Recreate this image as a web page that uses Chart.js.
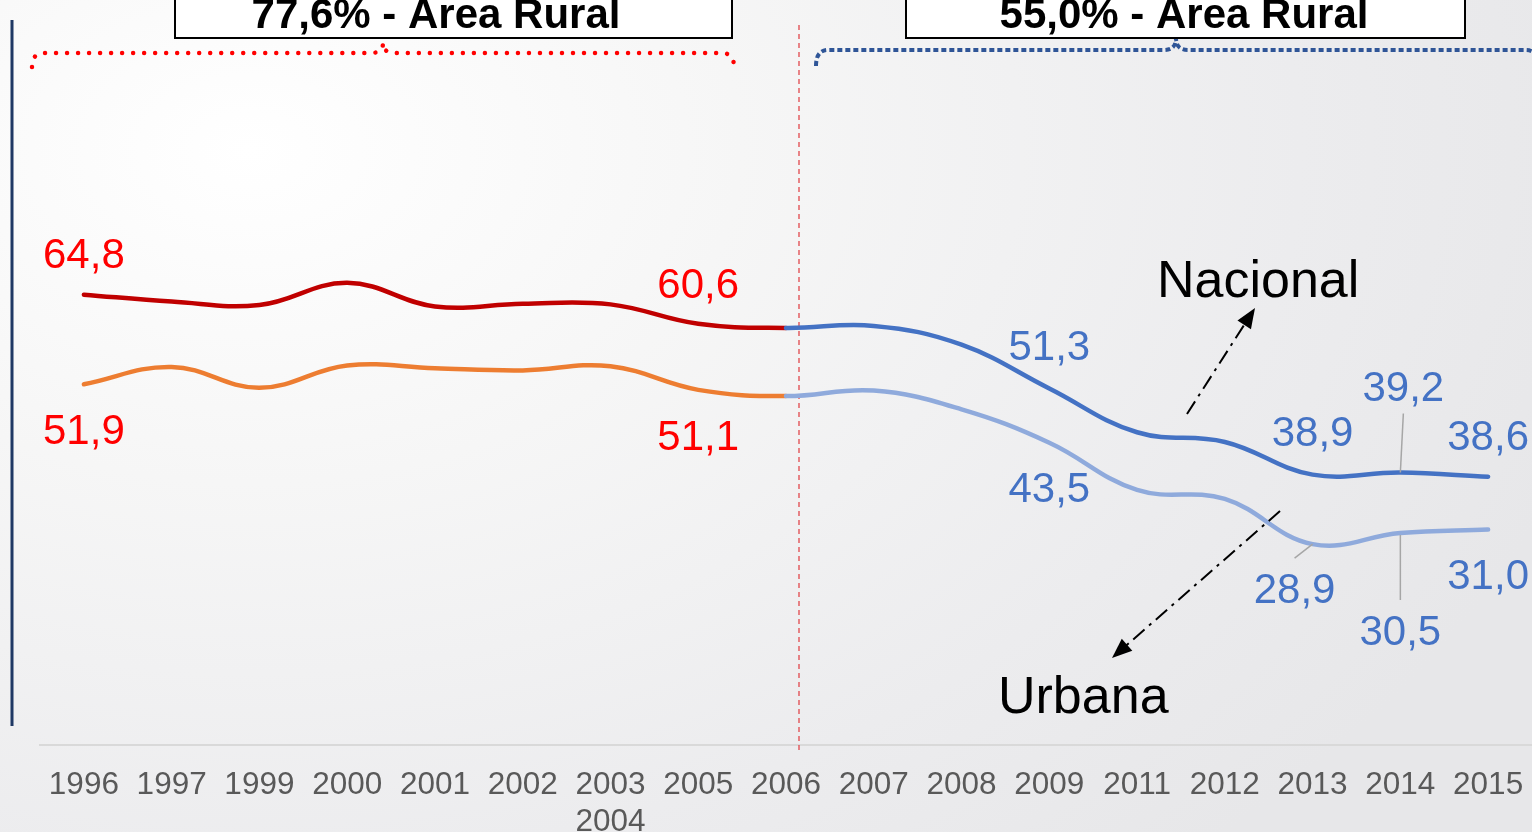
<!DOCTYPE html>
<html>
<head>
<meta charset="utf-8">
<script src="https://cdn.jsdelivr.net/npm/chart.js@4.4.1/dist/chart.umd.min.js"></script>
<style>
  html, body { margin: 0; padding: 0; }
  body {
    width: 1532px; height: 832px; overflow: hidden;
    background: radial-gradient(ellipse 1400px 950px at 250px 150px, #ffffff 0%, #f6f6f6 35%, #ececee 75%, #e7e7e9 100%);
  }
  #grafico { display: block; }
</style>
</head>
<body>
<canvas id="grafico" width="1532" height="832"></canvas>
<script>
// anos (2003 e 2004 partilham a mesma posição)
const anos = ["1996", "1997", "1999", "2000", "2001", "2002", ["2003", "2004"], "2005", "2006",
  "2007", "2008", "2009", "2011", "2012", "2013", "2014", "2015"];
const nacional = [64.8, 63.8, 63.3, 66.5, 63.1, 63.5, 63.4, 60.6, 60.0, 60.3, 57.6, 51.3, 45.0, 43.6, 38.9, 39.2, 38.6];
const urbana = [51.9, 54.4, 51.4, 54.6, 54.2, 53.9, 54.5, 51.1, 50.2, 51.0, 48.3, 43.5, 36.7, 35.4, 28.9, 30.5, 31.0];
// pontos com rótulo
const rotulosNacional = [0, 7, 11, 14, 15, 16];
const rotulosUrbana = [0, 7, 11, 14, 15, 16];
const faixas = ["77,6% - Área Rural", "55,0% - Área Rural"];
const corte = 8; // 2006 - a partir daqui a cor muda

const cores = {
  nacionalAntes: "#c00000",
  urbanaAntes: "#ed7d31",
  nacionalDepois: "#4472c4",
  urbanaDepois: "#8faadc",
  rotuloAntes: "#ff0000",
  rotuloDepois: "#4472c4",
};

// deslocamento dos rótulos em relação ao ponto [dx, dy da linha de base]
const posNacional = { 0: [0, -27], 7: [0, -26], 11: [0, -28], 14: [0, -29], 15: [3, -72], 16: [0, -27] };
const posUrbana = { 0: [0, 60], 7: [0, 60], 11: [0, 59], 14: [-18, 59], 15: [0, 112], 16: [0, 59] };

const fmt = (v) => v.toFixed(1).replace(".", ",");
const FONTE = '"Liberation Sans", Arial, sans-serif';

function linha(ctx, x1, y1, x2, y2) {
  ctx.beginPath();
  ctx.moveTo(x1, y1);
  ctx.lineTo(x2, y2);
  ctx.stroke();
}

function seta(ctx, x1, y1, x2, y2) {
  const ang = Math.atan2(y2 - y1, x2 - x1);
  ctx.save();
  ctx.strokeStyle = "#000";
  ctx.lineWidth = 2;
  ctx.setLineDash([15, 6, 3, 6]);
  linha(ctx, x1, y1, x2 - 14 * Math.cos(ang), y2 - 14 * Math.sin(ang));
  ctx.setLineDash([]);
  ctx.fillStyle = "#000";
  ctx.beginPath();
  ctx.moveTo(x2, y2);
  ctx.lineTo(x2 - 20 * Math.cos(ang) + 8 * Math.sin(ang), y2 - 20 * Math.sin(ang) - 8 * Math.cos(ang));
  ctx.lineTo(x2 - 20 * Math.cos(ang) - 8 * Math.sin(ang), y2 - 20 * Math.sin(ang) + 8 * Math.cos(ang));
  ctx.closePath();
  ctx.fill();
  ctx.restore();
}

function chave(ctx, x1, x2, xm, yBase, yPonta, yTopo) {
  ctx.beginPath();
  ctx.moveTo(x1, yPonta);
  ctx.quadraticCurveTo(x1, yBase, x1 + 12, yBase);
  ctx.lineTo(xm - 12, yBase);
  ctx.quadraticCurveTo(xm, yBase, xm, yTopo);
  ctx.quadraticCurveTo(xm, yBase, xm + 12, yBase);
  ctx.lineTo(x2 - 12, yBase);
  ctx.quadraticCurveTo(x2, yBase, x2, yPonta);
  ctx.stroke();
}

function caixa(ctx, x, w, texto, xt) {
  ctx.save();
  ctx.fillStyle = "#ffffff";
  ctx.fillRect(x, -4, w, 42);
  ctx.strokeStyle = "#000";
  ctx.lineWidth = 2;
  ctx.strokeRect(x, -4, w, 42);
  ctx.fillStyle = "#000";
  ctx.font = "bold 42px " + FONTE;
  ctx.textAlign = "center";
  ctx.textBaseline = "alphabetic";
  ctx.fillText(texto, xt, 28);
  ctx.restore();
}

const anotacoes = {
  id: "anotacoes",
  beforeDatasetsDraw(chart) {
    const { ctx, scales } = chart;
    ctx.save();
    // barra lateral
    ctx.strokeStyle = "#1f3864";
    ctx.lineWidth = 3;
    linha(ctx, 12, 20, 12, 726);
    // divisória vermelha tracejada
    const xd = scales.x.getPixelForValue(corte) + 13;
    ctx.strokeStyle = "#e0474c";
    ctx.lineWidth = 1.3;
    ctx.setLineDash([5, 4]);
    linha(ctx, xd, 25, xd, 750);
    ctx.restore();
  },
  afterDatasetsDraw(chart) {
    const { ctx, scales } = chart;
    const xs = scales.x, ys = scales.y;

    // linhas de chamada
    ctx.save();
    ctx.strokeStyle = "#a6a6a6";
    ctx.lineWidth = 1.5;
    let px = xs.getPixelForValue(15), py = ys.getPixelForValue(nacional[15]);
    linha(ctx, px + 3, py - 59, px, py);
    px = xs.getPixelForValue(14); py = ys.getPixelForValue(urbana[14]);
    linha(ctx, px - 18, py + 14, px, py);
    px = xs.getPixelForValue(15); py = ys.getPixelForValue(urbana[15]);
    linha(ctx, px, py + 2, px, py + 67);
    ctx.restore();

    // rótulos de valores
    ctx.save();
    ctx.font = "42px " + FONTE;
    ctx.textAlign = "center";
    ctx.textBaseline = "alphabetic";
    const rotular = (serie, indices, pos) => {
      indices.forEach((i) => {
        const [dx, dy] = pos[i];
        ctx.fillStyle = i < corte ? cores.rotuloAntes : cores.rotuloDepois;
        ctx.fillText(fmt(serie[i]), xs.getPixelForValue(i) + dx, ys.getPixelForValue(serie[i]) + dy);
      });
    };
    rotular(nacional, rotulosNacional, posNacional);
    rotular(urbana, rotulosUrbana, posUrbana);
    ctx.restore();

    // nomes das séries e setas
    ctx.save();
    ctx.fillStyle = "#000";
    ctx.font = "52px " + FONTE;
    ctx.textAlign = "left";
    ctx.fillText("Nacional", 1157, 297);
    ctx.fillText("Urbana", 998, 713);
    ctx.restore();
    seta(ctx, 1187, 414, 1255, 308);
    seta(ctx, 1280, 511, 1112, 658);

    // chaves
    ctx.save();
    ctx.strokeStyle = "#ff0000";
    ctx.lineWidth = 4.5;
    ctx.lineCap = "round";
    ctx.setLineDash([0.01, 11]);
    chave(ctx, 32, 734, 383, 53, 67, 43);
    ctx.strokeStyle = "#2f5597";
    ctx.lineWidth = 4;
    ctx.lineCap = "butt";
    ctx.setLineDash([5, 3]);
    chave(ctx, 816, 1538, 1176, 50, 66, 38);
    ctx.restore();

    // caixas de topo
    caixa(ctx, 175, 557, faixas[0], 436);
    caixa(ctx, 906, 559, faixas[1], 1184);
  },
};

const antesDepois = (antes, depois) => (c) => (c.p0DataIndex < corte ? antes : depois);

new Chart(document.getElementById("grafico"), {
  type: "line",
  data: {
    labels: anos,
    datasets: [
      {
        label: "Nacional",
        data: nacional,
        borderColor: cores.nacionalAntes,
        segment: { borderColor: antesDepois(cores.nacionalAntes, cores.nacionalDepois) },
      },
      {
        label: "Urbana",
        data: urbana,
        borderColor: cores.urbanaAntes,
        segment: { borderColor: antesDepois(cores.urbanaAntes, cores.urbanaDepois) },
      },
    ],
  },
  options: {
    responsive: false,
    animation: false,
    layout: { padding: { top: 50, left: 40, right: -6, bottom: 0 } },
    elements: {
      line: { borderWidth: 4.5, tension: 0.4, borderCapStyle: "round", borderJoinStyle: "round", fill: false },
      point: { radius: 0, hoverRadius: 0 },
    },
    plugins: {
      legend: { display: false },
      tooltip: { enabled: false },
    },
    scales: {
      x: {
        offset: true,
        grid: { display: false, drawTicks: false },
        border: { display: true, color: "#d9d9d9", width: 2 },
        ticks: {
          color: "#595959",
          font: { family: FONTE, size: 31.5 },
          padding: 21,
          maxRotation: 0,
          autoSkip: false,
        },
        afterFit: (s) => {
          s.height = 87;
          s.paddingLeft = 0;
          s.paddingRight = 0;
        },
      },
      y: { display: false, min: 0, max: 100 },
    },
  },
  plugins: [anotacoes],
});
</script>
</body>
</html>
